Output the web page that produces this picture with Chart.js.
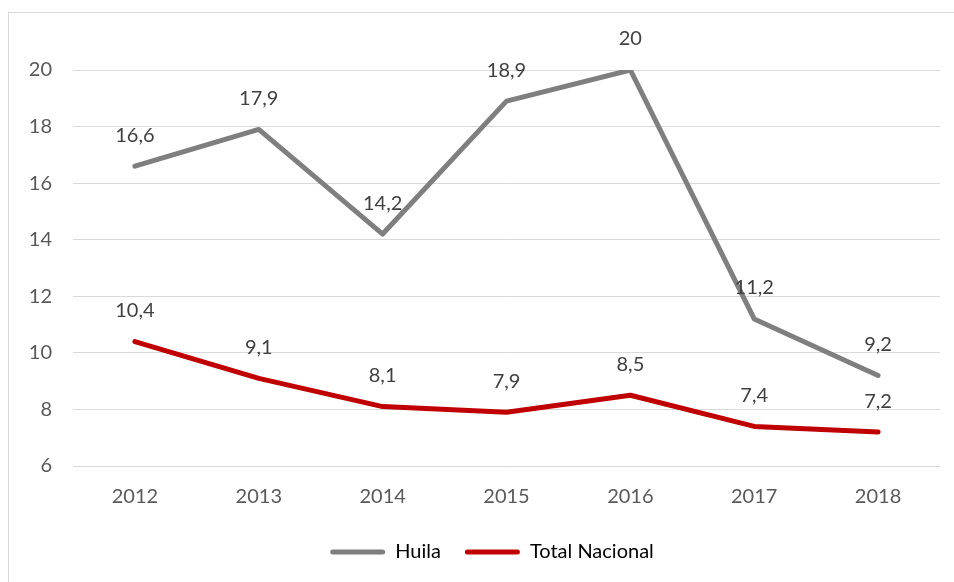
<!DOCTYPE html>
<html>
<head>
<meta charset="utf-8">
<script src="https://cdn.jsdelivr.net/npm/chart.js@4.4.0/dist/chart.umd.min.js"></script>
<style>
  html, body { margin: 0; padding: 0; background: #ffffff; }
  #wrap { position: relative; width: 954px; height: 582px; }
</style>
</head>
<body>
<div id="wrap"><canvas id="c" width="954" height="582"></canvas></div>
<script>
const categories = ['2012', '2013', '2014', '2015', '2016', '2017', '2018'];
const huila = [16.6, 17.9, 14.2, 18.9, 20, 11.2, 9.2];
const totalNacional = [10.4, 9.1, 8.1, 7.9, 8.5, 7.4, 7.2];
const seriesNames = ['Huila', 'Total Nacional'];
const yTicks = [6, 8, 10, 12, 14, 16, 18, 20];

const FONT = 'Lato, "Noto Sans", sans-serif';

const borderPlugin = {
  id: 'outerBorder',
  beforeDraw(chart) {
    const ctx = chart.ctx;
    ctx.save();
    ctx.strokeStyle = '#d9d9d9';
    ctx.lineWidth = 1;
    ctx.strokeRect(8.5, 12.5, 1000, 600);
    ctx.restore();
  }
};

const labelPlugin = {
  id: 'valueLabels',
  afterDatasetsDraw(chart) {
    const ctx = chart.ctx;
    ctx.save();
    ctx.font = '20px ' + FONT;
    ctx.fillStyle = '#404040';
    ctx.textAlign = 'center';
    ctx.textBaseline = 'middle';
    chart.data.datasets.forEach((ds, di) => {
      const meta = chart.getDatasetMeta(di);
      meta.data.forEach((pt, i) => {
        const v = ds.data[i];
        ctx.fillText(String(v).replace('.', ','), pt.x, pt.y - 31);
      });
    });
    ctx.restore();
  }
};

new Chart(document.getElementById('c'), {
  type: 'line',
  data: {
    labels: categories,
    datasets: [
      {
        label: seriesNames[0],
        data: huila,
        borderColor: '#7f7f7f',
        backgroundColor: '#7f7f7f',
        borderWidth: 5,
        pointRadius: 0,
        borderCapStyle: 'round',
        borderJoinStyle: 'round',
        tension: 0
      },
      {
        label: seriesNames[1],
        data: totalNacional,
        borderColor: '#c00000',
        backgroundColor: '#c00000',
        borderWidth: 5,
        pointRadius: 0,
        borderCapStyle: 'round',
        borderJoinStyle: 'round',
        tension: 0
      }
    ]
  },
  options: {
    responsive: false,
    animation: false,
    devicePixelRatio: 1,
    layout: { padding: { left: 30, top: 70, right: 0, bottom: 10 } },
    plugins: {
      tooltip: { enabled: false },
      legend: {
        display: true,
        position: 'bottom',
        labels: {
          boxWidth: 55,
          boxHeight: 5,
          padding: 24,
          color: '#595959',
          font: { family: FONT, size: 20 },
          generateLabels(chart) {
            return chart.data.datasets.map((ds, i) => ({
              text: ds.label,
              fillStyle: ds.borderColor,
              strokeStyle: ds.borderColor,
              lineWidth: 0,
              borderRadius: 2.5,
              datasetIndex: i,
              hidden: false
            }));
          },
          useBorderRadius: true
        }
      }
    },
    scales: {
      x: {
        offset: true,
        grid: { display: false },
        border: { display: false },
        ticks: { color: '#595959', font: { family: FONT, size: 20 }, padding: 11, maxRotation: 0 },
        afterFit(s) { s.height = 52; }
      },
      y: {
        min: 6,
        max: 20,
        afterBuildTicks(s) { s.ticks = yTicks.map(v => ({ value: v })); },
        grid: { color: '#d9d9d9', lineWidth: 1, drawTicks: false },
        border: { display: false },
        ticks: { color: '#595959', font: { family: FONT, size: 20 }, padding: 21 },
        afterFit(s) { s.width = 43; }
      },
      y2: {
        position: 'right',
        display: true,
        grid: { display: false },
        border: { display: false },
        ticks: { display: false },
        afterFit(s) { s.width = 14; }
      }
    }
  },
  plugins: [borderPlugin, labelPlugin]
});
</script>
</body>
</html>
